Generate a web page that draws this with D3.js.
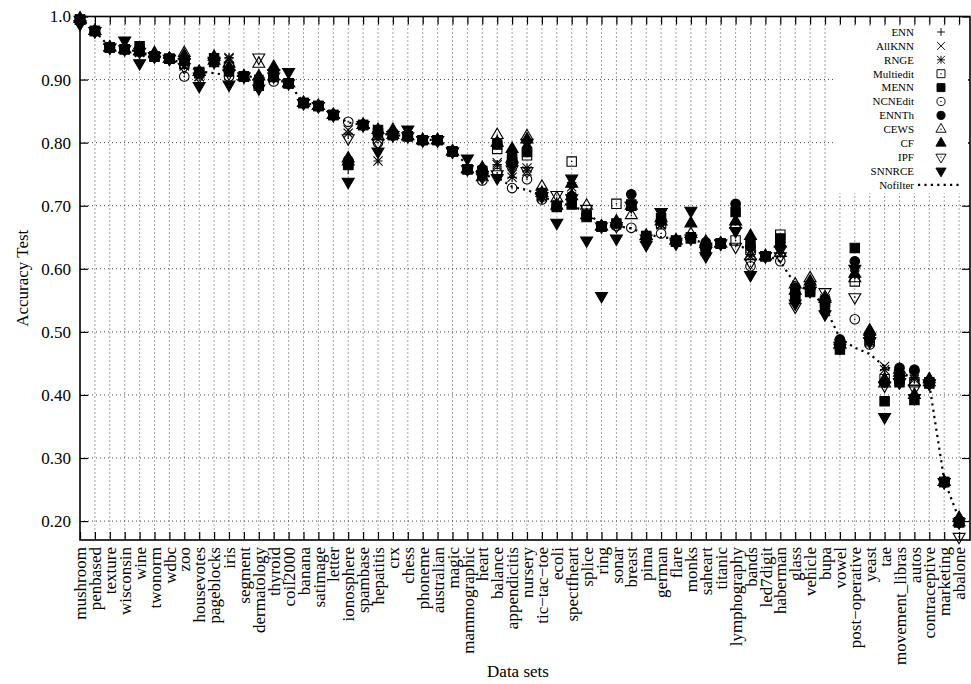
<!DOCTYPE html>
<html>
<head>
<meta charset="utf-8">
<script src="https://cdn.jsdelivr.net/npm/d3@7"></script>
<style>
body { margin: 0; background: #fff; }
svg { display: block; font-family: "Liberation Serif", "Times New Roman", serif; }
svg text { font-family: "Liberation Serif", "Times New Roman", serif; }
</style>
</head>
<body>
<div class="canvas"></div>
<script>
const datasets = ['mushroom', 'penbased', 'texture', 'wisconsin', 'wine', 'twonorm', 'wdbc', 'zoo', 'housevotes', 'pageblocks',
    'iris', 'segment', 'dermatology', 'thyroid', 'coil2000', 'banana', 'satimage', 'letter', 'ionosphere', 'spambase',
    'hepatitis', 'crx', 'chess', 'phoneme', 'australian', 'magic', 'mammographic', 'heart', 'balance', 'appendicitis',
    'nursery', 'tic\u2212tac\u2212toe', 'ecoli', 'spectfheart', 'splice', 'ring', 'sonar', 'breast', 'pima', 'german',
    'flare', 'monks', 'saheart', 'titanic', 'lymphography', 'bands', 'led7digit', 'haberman', 'glass', 'vehicle',
    'bupa', 'vowel', 'post\u2212operative', 'yeast', 'tae', 'movement_libras', 'autos', 'contraceptive', 'marketing', 'abalone']

const ENN = [0.996, 0.977, 0.951, 0.948, 0.944, 0.937, 0.933, 0.925, 0.910, 0.930,
    0.935, 0.905, 0.905, 0.905, 0.894, 0.863, 0.858, 0.844, 0.757, 0.828,
    0.810, 0.812, 0.810, 0.804, 0.804, 0.786, 0.758, 0.750, 0.765, 0.765,
    0.760, 0.718, 0.700, 0.720, 0.685, 0.667, 0.672, 0.700, 0.652, 0.672,
    0.645, 0.650, 0.635, 0.640, 0.700, 0.630, 0.620, 0.635, 0.560, 0.572,
    0.550, 0.480, 0.598, 0.485, 0.440, 0.430, 0.425, 0.420, 0.262, 0.198]
const AllKNN = [0.996, 0.977, 0.951, 0.948, 0.944, 0.937, 0.933, 0.922, 0.905, 0.928,
    0.935, 0.905, 0.900, 0.903, 0.894, 0.863, 0.858, 0.844, 0.820, 0.828,
    0.805, 0.812, 0.810, 0.804, 0.804, 0.786, 0.758, 0.748, 0.768, 0.750,
    0.760, 0.715, 0.700, 0.725, 0.685, 0.667, 0.670, 0.700, 0.650, 0.670,
    0.645, 0.650, 0.632, 0.640, 0.680, 0.625, 0.620, 0.630, 0.565, 0.570,
    0.552, 0.480, 0.595, 0.485, 0.445, 0.435, 0.425, 0.420, 0.262, 0.198]
const RNGE = [0.996, 0.977, 0.951, 0.948, 0.943, 0.937, 0.933, 0.922, 0.905, 0.930,
    0.933, 0.905, 0.900, 0.903, 0.894, 0.863, 0.858, 0.844, 0.815, 0.828,
    0.771, 0.812, 0.810, 0.804, 0.804, 0.786, 0.758, 0.748, 0.765, 0.745,
    0.755, 0.715, 0.700, 0.730, 0.685, 0.667, 0.670, 0.700, 0.650, 0.670,
    0.645, 0.650, 0.632, 0.640, 0.695, 0.620, 0.620, 0.625, 0.562, 0.570,
    0.550, 0.480, 0.590, 0.485, 0.440, 0.430, 0.430, 0.420, 0.262, 0.198]
const Multiedit = [0.995, 0.977, 0.951, 0.948, 0.945, 0.937, 0.933, 0.925, 0.910, 0.928,
    0.920, 0.905, 0.890, 0.905, 0.894, 0.863, 0.858, 0.844, 0.765, 0.828,
    0.815, 0.812, 0.810, 0.804, 0.804, 0.786, 0.758, 0.750, 0.790, 0.770,
    0.780, 0.715, 0.700, 0.770, 0.685, 0.667, 0.703, 0.700, 0.650, 0.672,
    0.645, 0.650, 0.630, 0.640, 0.645, 0.630, 0.620, 0.654, 0.560, 0.568,
    0.548, 0.480, 0.580, 0.485, 0.425, 0.425, 0.420, 0.420, 0.262, 0.198]
const MENN = [0.995, 0.977, 0.951, 0.948, 0.953, 0.936, 0.933, 0.930, 0.912, 0.934,
    0.913, 0.905, 0.893, 0.904, 0.894, 0.863, 0.858, 0.844, 0.765, 0.828,
    0.820, 0.812, 0.810, 0.804, 0.804, 0.786, 0.758, 0.755, 0.797, 0.775,
    0.785, 0.720, 0.698, 0.702, 0.682, 0.667, 0.672, 0.702, 0.652, 0.680,
    0.643, 0.648, 0.628, 0.640, 0.690, 0.640, 0.620, 0.648, 0.552, 0.563,
    0.540, 0.472, 0.633, 0.490, 0.390, 0.420, 0.392, 0.418, 0.262, 0.198]
const NCNEdit = [0.995, 0.977, 0.951, 0.948, 0.945, 0.937, 0.933, 0.905, 0.910, 0.930,
    0.905, 0.905, 0.890, 0.897, 0.894, 0.863, 0.858, 0.844, 0.833, 0.828,
    0.800, 0.812, 0.810, 0.804, 0.804, 0.786, 0.758, 0.740, 0.752, 0.728,
    0.742, 0.710, 0.700, 0.710, 0.685, 0.667, 0.668, 0.665, 0.650, 0.656,
    0.645, 0.650, 0.640, 0.640, 0.665, 0.604, 0.620, 0.612, 0.572, 0.575,
    0.550, 0.488, 0.520, 0.480, 0.420, 0.425, 0.438, 0.420, 0.262, 0.198]
const ENNTh = [0.996, 0.977, 0.951, 0.948, 0.945, 0.937, 0.933, 0.930, 0.912, 0.930,
    0.913, 0.905, 0.900, 0.905, 0.894, 0.863, 0.858, 0.844, 0.772, 0.828,
    0.815, 0.812, 0.810, 0.804, 0.804, 0.786, 0.758, 0.758, 0.800, 0.785,
    0.790, 0.720, 0.700, 0.715, 0.685, 0.667, 0.672, 0.718, 0.652, 0.675,
    0.645, 0.650, 0.642, 0.640, 0.703, 0.635, 0.620, 0.642, 0.570, 0.575,
    0.552, 0.487, 0.612, 0.495, 0.420, 0.443, 0.440, 0.420, 0.262, 0.198]
const CEWS = [0.997, 0.977, 0.951, 0.948, 0.945, 0.940, 0.933, 0.942, 0.912, 0.930,
    0.925, 0.905, 0.925, 0.905, 0.894, 0.863, 0.858, 0.844, 0.770, 0.828,
    0.810, 0.812, 0.810, 0.804, 0.804, 0.786, 0.758, 0.745, 0.812, 0.775,
    0.810, 0.730, 0.712, 0.715, 0.700, 0.667, 0.672, 0.685, 0.652, 0.675,
    0.645, 0.655, 0.643, 0.640, 0.670, 0.620, 0.620, 0.625, 0.575, 0.585,
    0.555, 0.480, 0.585, 0.500, 0.418, 0.440, 0.420, 0.420, 0.262, 0.198]
const CF = [0.996, 0.977, 0.951, 0.948, 0.945, 0.942, 0.933, 0.938, 0.912, 0.936,
    0.920, 0.905, 0.905, 0.920, 0.894, 0.863, 0.858, 0.844, 0.775, 0.828,
    0.820, 0.820, 0.810, 0.804, 0.804, 0.786, 0.758, 0.760, 0.800, 0.790,
    0.805, 0.720, 0.700, 0.735, 0.685, 0.667, 0.675, 0.700, 0.652, 0.680,
    0.645, 0.672, 0.640, 0.640, 0.675, 0.652, 0.620, 0.640, 0.565, 0.580,
    0.552, 0.480, 0.592, 0.502, 0.425, 0.435, 0.400, 0.425, 0.262, 0.205]
const IPF = [0.995, 0.977, 0.951, 0.948, 0.944, 0.937, 0.933, 0.920, 0.905, 0.928,
    0.910, 0.905, 0.935, 0.905, 0.894, 0.863, 0.858, 0.844, 0.807, 0.828,
    0.800, 0.812, 0.810, 0.804, 0.804, 0.786, 0.758, 0.745, 0.750, 0.758,
    0.755, 0.715, 0.717, 0.712, 0.695, 0.667, 0.668, 0.700, 0.648, 0.690,
    0.643, 0.648, 0.628, 0.640, 0.635, 0.610, 0.620, 0.620, 0.540, 0.565,
    0.563, 0.478, 0.555, 0.485, 0.415, 0.420, 0.410, 0.418, 0.262, 0.175]
const SNNRCE = [0.988, 0.977, 0.951, 0.962, 0.926, 0.937, 0.933, 0.928, 0.890, 0.930,
    0.892, 0.905, 0.886, 0.910, 0.912, 0.863, 0.858, 0.844, 0.738, 0.828,
    0.786, 0.812, 0.821, 0.804, 0.804, 0.786, 0.775, 0.748, 0.744, 0.762,
    0.800, 0.715, 0.673, 0.743, 0.645, 0.557, 0.648, 0.700, 0.638, 0.690,
    0.640, 0.692, 0.620, 0.640, 0.660, 0.590, 0.620, 0.630, 0.545, 0.565,
    0.528, 0.475, 0.600, 0.485, 0.365, 0.420, 0.395, 0.418, 0.262, 0.198]
const Nofilter = [0.997, 0.977, 0.951, 0.948, 0.944, 0.937, 0.933, 0.925, 0.913, 0.910,
    0.907, 0.905, 0.904, 0.900, 0.895, 0.863, 0.859, 0.844, 0.832, 0.828,
    0.815, 0.812, 0.810, 0.805, 0.804, 0.786, 0.765, 0.748, 0.745, 0.730,
    0.725, 0.715, 0.705, 0.700, 0.690, 0.670, 0.668, 0.664, 0.655, 0.650,
    0.648, 0.647, 0.640, 0.640, 0.638, 0.630, 0.622, 0.612, 0.575, 0.565,
    0.540, 0.490, 0.475, 0.465, 0.445, 0.437, 0.425, 0.417, 0.265, 0.203]

const yTickValues = [1.0, 0.9, 0.8, 0.7, 0.6, 0.5, 0.4, 0.3, 0.2]
const yTickLabels = ['1.0', '0.90', '0.80', '0.70', '0.60', '0.50', '0.40', '0.30', '0.20']

const series = [
    { name: 'ENN', values: ENN, shape: 'plus' },
    { name: 'AllKNN', values: AllKNN, shape: 'times' },
    { name: 'RNGE', values: RNGE, shape: 'star' },
    { name: 'Multiedit', values: Multiedit, shape: 'square', open: true },
    { name: 'MENN', values: MENN, shape: 'square' },
    { name: 'NCNEdit', values: NCNEdit, shape: 'circle', open: true },
    { name: 'ENNTh', values: ENNTh, shape: 'circle' },
    { name: 'CEWS', values: CEWS, shape: 'up', open: true },
    { name: 'CF', values: CF, shape: 'up' },
    { name: 'IPF', values: IPF, shape: 'down', open: true },
    { name: 'SNNRCE', values: SNNRCE, shape: 'down' }
]

const W = 971, H = 684
const m = { left: 80, right: 970, top: 16.5, bottom: 540 }

const svg = d3.select('.canvas').append('svg').attr('width', W).attr('height', H)

const x = d3.scalePoint().domain(datasets).range([m.left, m.left + 14.9 * (datasets.length - 1)])
const y = d3.scaleLinear().domain([0.17, 1.0]).range([m.bottom, m.top])

// dotted grid
const grid = svg.append('g').attr('stroke', '#333').attr('stroke-width', 0.9).attr('stroke-dasharray', '1,3')
grid.selectAll('.vg').data(datasets.slice(1)).join('line')
    .attr('x1', d => x(d)).attr('x2', d => x(d))
    .attr('y1', m.top).attr('y2', m.bottom)
grid.selectAll('.hg').data(yTickValues.slice(1)).join('line')
    .attr('x1', m.left).attr('x2', m.right)
    .attr('y1', d => y(d)).attr('y2', d => y(d))

// axes with inward ticks
const yAxis = d3.axisLeft(y).tickValues(yTickValues).tickSize(-8).tickSizeOuter(0).tickPadding(9)
    .tickFormat((d, i) => yTickLabels[i])
const yAxisG = svg.append('g').attr('transform', `translate(${m.left},0)`).call(yAxis)
yAxisG.selectAll('text').style('font-size', '17px').attr('fill', '#000')

svg.append('g').attr('transform', `translate(${m.right},0)`)
    .call(d3.axisRight(y).tickValues(yTickValues).tickSize(-8).tickSizeOuter(0).tickFormat(''))

svg.append('g').attr('transform', `translate(0,${m.top})`)
    .call(d3.axisTop(x).tickSize(-8).tickSizeOuter(0).tickFormat(''))

const xAxisG = svg.append('g').attr('transform', `translate(0,${m.bottom})`)
    .call(d3.axisBottom(x).tickSize(-8).tickSizeOuter(0))
xAxisG.selectAll('text')
    .attr('transform', 'rotate(-90)')
    .attr('text-anchor', 'end')
    .attr('x', -7).attr('y', 0).attr('dy', '0.33em')
    .style('font-size', '17px').attr('fill', '#000')

svg.selectAll('.domain').remove()
svg.selectAll('.tick line').attr('stroke', '#000').attr('stroke-width', 1.2)

svg.append('rect')
    .attr('x', m.left).attr('y', m.top)
    .attr('width', m.right - m.left).attr('height', m.bottom - m.top)
    .attr('fill', 'none').attr('stroke', '#000').attr('stroke-width', 1.6)

// marker shapes
const r = 4.6
const plusPath = `M${-r},0H${r}M0,${-r}V${r}`
const timesPath = `M${-r},${-r}L${r},${r}M${-r},${r}L${r},${-r}`
const shapes = {
    plus: plusPath,
    times: timesPath,
    star: plusPath + timesPath,
    square: d3.symbol(d3.symbolSquare, 88)(),
    circle: d3.symbol(d3.symbolCircle, 72)(),
    up: d3.symbol(d3.symbolTriangle, 62)(),
    down: d3.symbol(d3.symbolTriangle, 62)()
}

const drawMarker = (sel, s) => {
    const stroked = ['plus', 'times', 'star'].includes(s.shape) || s.open
    sel.append('path')
        .attr('d', shapes[s.shape])
        .attr('transform', s.shape === 'down' ? 'rotate(180)' : null)
        .attr('fill', stroked ? 'none' : '#000')
        .attr('stroke', '#000')
        .attr('stroke-width', 1.1)
    if (s.open) sel.append('circle').attr('r', 0.8).attr('fill', '#000')
}

// nofilter dotted line
const line = d3.line().x((d, i) => x(datasets[i])).y(d => y(d))
svg.append('path').datum(Nofilter)
    .attr('d', line)
    .attr('fill', 'none').attr('stroke', '#000')
    .attr('stroke-width', 2.2).attr('stroke-dasharray', '2.2,4.2')

series.forEach(s => {
    svg.append('g').selectAll('g').data(s.values).join('g')
        .attr('transform', (d, i) => `translate(${x(datasets[i])},${y(d)})`)
        .each(function () { drawMarker(d3.select(this), s) })
})

// legend
const legend = svg.append('g')
legend.append('rect').attr('x', 834).attr('y', 26).attr('width', 134).attr('height', 167).attr('fill', '#fff')
const legendY = i => 32 + 13.9 * i
series.forEach((s, i) => {
    legend.append('text').attr('x', 914).attr('y', legendY(i)).attr('dy', '0.35em')
        .attr('text-anchor', 'end').style('font-size', '11px').text(s.name)
    const g = legend.append('g').attr('transform', `translate(941,${legendY(i)}) scale(0.85)`)
    drawMarker(g, s)
})
legend.append('text').attr('x', 914).attr('y', legendY(11)).attr('dy', '0.35em')
    .attr('text-anchor', 'end').style('font-size', '11px').text('Nofilter')
legend.append('line').attr('x1', 918).attr('x2', 960).attr('y1', legendY(11)).attr('y2', legendY(11))
    .attr('stroke', '#000').attr('stroke-width', 2.2).attr('stroke-dasharray', '2.2,4.2')

// axis titles
svg.append('text').attr('transform', `translate(22,${(m.top + m.bottom) / 2}) rotate(-90)`)
    .attr('text-anchor', 'middle').attr('dy', '0.35em').style('font-size', '17px').text('Accuracy Test')
svg.append('text').attr('x', 518).attr('y', 677)
    .attr('text-anchor', 'middle').style('font-size', '17px').text('Data sets')
</script>
</body>
</html>
